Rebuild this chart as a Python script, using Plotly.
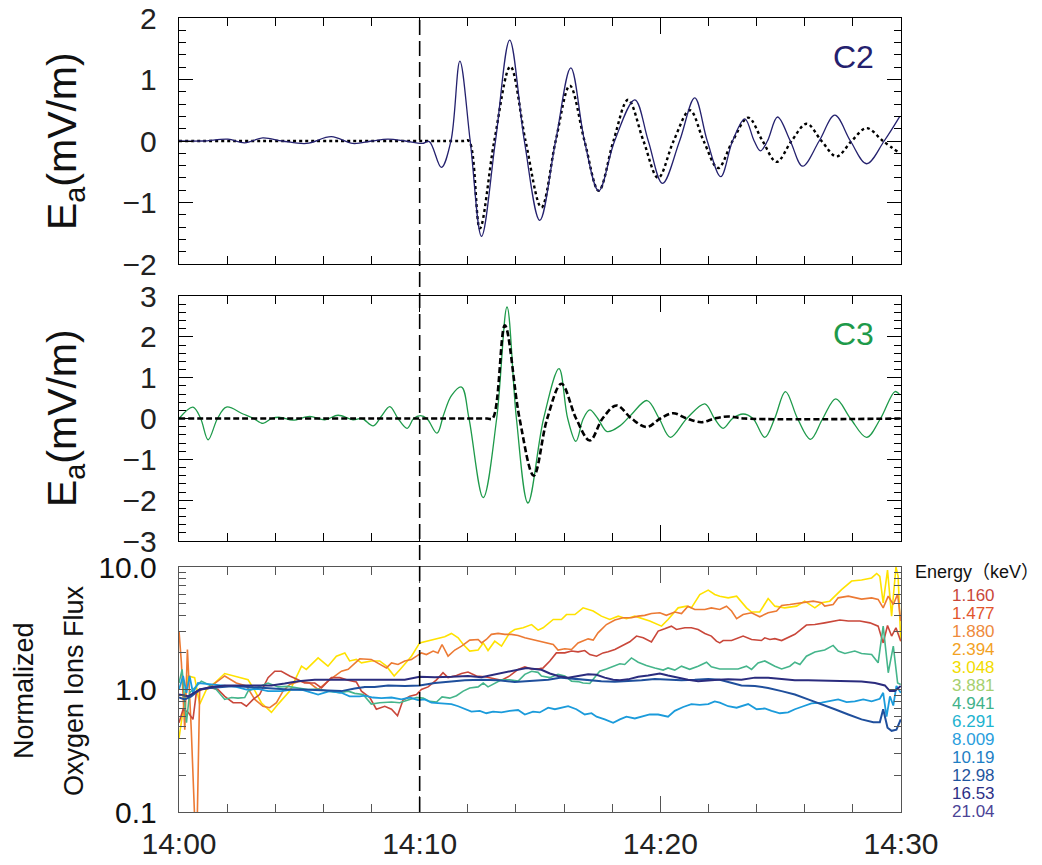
import plotly.graph_objects as go

# ---------------- data (minutes after 14:00) ----------------
# Panel C2: observed (solid) and model (dotted)
c2_t = [0, 1.0, 2.03, 2.73, 3.48, 4.3, 5.3, 6.33, 7.22, 8.0, 8.68, 9.4, 10.1, 10.4,
        10.9, 11.3, 11.67, 12.1, 12.57, 13.15, 13.74, 14.35, 14.99, 15.65, 16.28, 16.85,
        17.44, 18.1, 18.94, 19.5, 20.09, 20.8, 21.43, 21.95, 22.51, 23.0, 23.51, 23.9,
        24.16, 24.45, 24.87, 25.4, 25.91, 26.6, 27.25, 27.9, 28.57, 29.3, 29.95]
c2_obs = [0, 0.0, 0.03, -0.03, 0.05, 0.0, -0.04, 0.07, -0.04, 0.0, 0.03, 0.0, -0.04, -0.01,
          -0.43, 0.0, 1.30, 0.0, -1.55, 0.0, 1.64, 0.0, -1.29, 0.0, 1.19, 0.0,
          -0.81, 0.0, 0.67, 0.0, -0.69, 0.0, 0.70, 0.0, -0.58, 0.0, 0.36, 0.0,
          -0.16, 0.0, 0.39, 0.0, -0.41, 0.0, 0.42, 0.0, -0.37, 0.0, 0.40]
c2_mod_t = [0, 11.8, 12.05, 12.5, 13.1, 13.77, 14.4, 15.06, 15.65, 16.24, 16.85, 17.44,
            18.05, 18.66, 19.3, 19.91, 20.55, 21.23, 21.8, 22.4, 23.0, 23.65, 24.25,
            24.83, 25.45, 26.08, 26.7, 27.32, 27.95, 28.57, 29.25, 29.95]
c2_mod = [0, 0, 0, -1.42, 0, 1.21, 0, -1.08, 0, 0.90, 0, -0.81,
          0, 0.67, 0, -0.60, 0, 0.50, 0, -0.44, 0, 0.38, 0,
          -0.34, 0, 0.28, 0, -0.25, 0, 0.21, 0, -0.20]

# Panel C3: observed (solid) and model (dashed)
c3_t = [0, 0.58, 0.9, 1.21, 1.6, 1.97, 2.66, 3.1, 3.49, 3.85, 4.19, 4.74, 5.43, 6.06,
        6.61, 7.23, 7.6, 8.07, 8.4, 8.76, 9.1, 9.48, 9.75, 10.03, 10.3, 10.72, 11.0,
        11.32, 11.74, 12.05, 12.64, 13.2, 13.63, 14.02, 14.5, 15.15, 15.79, 16.15, 16.49,
        16.8, 17.07, 17.4, 17.79, 18.32, 18.8, 19.45, 19.95, 20.42, 21.1, 21.85, 22.25,
        22.61, 23.0, 23.44, 23.85, 24.34, 24.75, 25.2, 25.7, 26.24, 26.75, 27.29, 27.9,
        28.57, 29.15, 29.75, 29.95]
c3_obs = [0.0, 0.28, 0.0, -0.52, 0.0, 0.28, 0.11, 0.0, -0.12, 0.0, 0.03, -0.04, 0.05, -0.03,
          0.08, -0.03, 0.0, -0.18, 0.05, 0.29, 0.0, -0.24, 0.0, 0.07, 0.0, -0.36, 0.1,
          0.56, 0.77, 0.0, -1.94, 0.0, 2.73, 0.0, -2.07, 0.0, 1.22, 0.0, -0.56,
          0.0, 0.21, 0.0, -0.32, -0.18, 0.1, 0.44, 0.0, -0.46, 0.0, 0.36, 0.0,
          -0.24, 0.0, 0.11, 0.0, -0.46, 0.0, 0.66, 0.0, -0.51, 0.0, 0.48, 0.0,
          -0.46, 0.0, 0.66, 0.58]
c3_mod_t = [0, 12.8, 13.03, 13.54, 14.15, 14.74, 15.3, 15.89, 16.5, 17.07, 17.6, 18.18,
            18.8, 19.43, 20.0, 20.53, 21.1, 21.71, 22.25, 22.82, 23.5, 30]
c3_mod = [0, 0, 0, 2.28, 0, -1.40, 0, 0.85, 0, -0.54, 0, 0.32,
          0, -0.21, 0, 0.13, 0, -0.09, 0, 0.05, 0, 0]

# Normalized oxygen ion flux, (minute, value) pairs per energy channel
flux_3048 = [(0.00,0.40),(0.38,1.29),(0.65,1.25),(0.86,0.76),(1.14,1.0),(1.48,1.13),(1.90,1.35),
    (2.31,1.29),(2.87,1.2),(3.15,0.98),(3.42,0.78),(3.84,0.65),(4.12,0.76),(4.60,0.97),(5.09,1.55),
    (5.29,1.46),(5.78,1.81),(6.19,1.55),(6.54,1.87),(6.89,1.99),(7.09,1.71),(7.37,1.76),(7.58,1.65),
    (7.99,1.71),(8.34,1.71),(8.62,1.55),(8.94,1.29),(9.24,1.50),(9.66,1.87),(10.00,2.4),(10.42,2.53),
    (10.76,2.64),(11.04,2.7),(11.32,2.87),(11.60,2.64),(11.81,2.33),(12.08,2.06),(12.43,2.1),
    (12.64,2.4),(12.84,2.08),(13.12,2.48),(13.40,2.26),(13.74,2.9),(13.95,3.09),(14.30,3.19),
    (14.65,3.39),(14.92,3.05),(15.13,3.19),(15.55,3.73),(15.89,3.73),(16.10,4.09),(16.45,4.09),
    (16.79,4.64),(17.21,4.37),(17.55,3.97),(17.90,3.73),(18.25,3.97),(18.59,3.78),(18.94,3.97),
    (19.56,3.62),(20.05,3.29),(20.32,3.73),(20.74,4.64),(21.09,4.79),(21.29,4.64),(21.64,5.96),
    (21.99,6.47),(22.26,5.96),(22.47,5.78),(22.82,5.6),(23.17,5.78),(23.58,4.64),(23.79,4.29),
    (24.13,4.29),(24.48,5.53),(24.76,4.79),(25.17,4.64),(25.66,4.79),(26.00,5.26),(26.42,4.64),
    (26.70,5.1),(27.04,5.26),(27.25,5.78),(27.53,6.54),(27.95,7.68),(28.36,7.83),(28.78,8.14),
    (28.99,8.85),(29.12,8.4),(29.26,5.1),(29.44,9.43),(29.61,3.97),(29.79,10.0),(29.88,8.4),
    (29.99,2.48)]
flux_1880 = [(0.00,3.0),(0.10,1.65),(0.24,0.47),(0.35,2.12),(0.51,0.47),(0.65,0.09),(0.76,0.09),
    (0.86,1.0),(1.0,1.0),(1.35,1.07),(1.90,1.29),(2.38,1.13),(2.80,1.07),(3.15,0.83),(3.49,0.73),
    (3.77,0.71),(4.05,0.78),(4.32,0.97),(4.60,1.1),(5.02,1.17),(5.43,1.13),(5.78,1.0),(6.19,1.17),
    (6.47,1.29),(6.75,1.41),(7.03,1.46),(7.30,1.65),(7.51,1.78),(7.99,1.76),(8.27,1.65),(8.62,1.5),
    (8.83,1.65),(9.10,1.6),(9.38,1.71),(9.66,1.76),(9.87,1.87),(10.07,1.99),(10.28,1.93),
    (10.56,2.06),(10.76,1.99),(10.93,2.33),(11.18,1.87),(11.46,2.1),(11.74,2.26),(12.08,2.53),
    (12.43,2.56),(12.57,2.4),(12.77,2.56),(12.98,2.82),(13.26,2.87),(13.54,2.82),(13.81,2.82),
    (14.09,2.76),(14.37,2.64),(14.78,2.53),(14.99,2.48),(15.20,2.4),(15.55,2.33),(15.75,2.1),
    (16.03,2.15),(16.31,2.12),(16.58,2.4),(17.00,2.59),(17.21,2.53),(17.41,2.9),(17.76,3.39),
    (18.11,3.69),(18.45,3.85),(18.80,3.85),(19.08,3.97),(19.35,4.03),(19.63,4.17),(19.98,4.23),
    (20.25,4.03),(20.60,4.29),(20.88,4.17),(21.15,4.79),(21.43,4.5),(21.85,4.5),(22.12,4.64),
    (22.47,4.5),(22.75,4.79),(22.96,4.37),(23.17,3.78),(23.44,4.09),(23.79,4.23),(24.13,3.92),
    (24.48,4.23),(24.83,4.37),(25.04,4.85),(25.38,4.94),(25.87,5.1),(26.35,5.26),(26.70,5.1),
    (26.83,4.79),(27.18,4.94),(27.39,5.6),(27.81,5.78),(28.36,5.47),(28.78,5.6),(29.05,5.44),
    (29.26,4.64),(29.47,5.78),(29.68,4.94),(29.86,6.0),(29.99,3.62)]
flux_1160 = [(0.00,0.535),(0.17,0.69),(0.38,0.65),(0.58,0.57),(0.72,0.94),(0.93,1.0),(1.35,1.03),
    (1.62,1.0),(1.90,0.88),(2.25,0.78),(2.59,0.78),(2.80,0.73),(3.08,0.83),(3.35,0.91),(3.70,1.25),
    (3.98,1.41),(4.25,1.41),(4.60,1.29),(4.95,1.2),(5.22,1.13),(5.64,1.13),(5.92,1.03),(6.33,1.25),
    (6.68,1.25),(7.03,1.19),(7.37,1.15),(7.58,0.97),(7.93,0.86),(8.20,0.69),(8.55,0.73),(8.83,0.69),
    (9.08,0.61),(9.31,0.82),(9.59,0.88),(9.87,0.91),(10.07,1.0),(10.35,1.05),(10.70,1.2),
    (10.97,1.37),(11.18,1.25),(11.53,1.30),(11.74,1.35),(12.01,1.39),(12.36,1.29),(12.71,1.27),
    (13.12,1.22),(13.40,1.19),(13.74,1.29),(14.09,1.46),(14.37,1.53),(14.65,1.47),(14.99,1.48),
    (15.13,1.5),(15.41,1.71),(15.68,1.99),(16.03,1.99),(16.31,2.06),(16.58,2.03),(16.86,2.08),
    (17.07,1.93),(17.35,1.87),(17.62,1.99),(17.83,2.03),(18.11,2.12),(18.38,2.26),(18.73,2.45),
    (19.01,2.73),(19.29,2.64),(19.63,2.44),(19.91,3.0),(20.18,3.13),(20.46,3.29),(20.67,3.09),
    (21.02,3.19),(21.29,3.19),(21.57,3.09),(21.85,2.87),(22.12,2.73),(22.33,2.48),(22.47,2.4),
    (22.61,2.51),(22.96,2.51),(23.44,2.73),(23.79,2.56),(24.20,2.51),(24.34,2.64),(24.55,2.56),
    (24.76,2.6),(25.04,2.51),(25.31,2.64),(25.59,2.82),(26.07,3.36),(26.42,3.39),(26.83,3.5),
    (27.25,3.62),(27.46,3.69),(27.81,3.62),(28.29,3.62),(28.71,3.5),(29.05,3.29),(29.26,2.4),
    (29.44,3.33),(29.61,2.73),(29.79,3.19),(29.99,2.48)]
flux_4941 = [(0.00,1.13),(0.13,1.46),(0.31,0.535),(0.44,0.94),(0.65,1.03),(0.93,1.17),(1.21,1.1),
    (1.55,1.0),(1.90,0.83),(2.18,0.86),(2.45,0.85),(2.73,0.86),(2.87,0.97),(3.22,1.03),(3.70,1.13),
    (4.12,1.05),(4.53,1.06),(4.95,1.03),(5.36,1.0),(5.78,1.01),(6.19,0.97),(6.68,0.94),(7.03,0.97),
    (7.30,0.93),(7.65,0.91),(7.99,0.76),(8.34,0.78),(8.83,0.79),(9.17,0.78),(9.52,0.82),(9.87,0.86),
    (10.14,0.85),(10.42,0.80),(10.70,0.79),(10.93,0.87),(11.25,0.85),(11.53,0.89),(11.81,0.97),
    (12.08,1.03),(12.43,1.05),(12.64,1.13),(12.84,1.05),(13.12,1.12),(13.40,1.2),(13.74,1.2),
    (14.09,1.17),(14.37,1.33),(14.65,1.41),(14.92,1.38),(15.06,1.29),(15.41,1.25),(15.75,1.33),
    (16.03,1.29),(16.31,1.17),(16.58,1.16),(16.79,1.13),(17.07,1.12),(17.28,1.25),(17.48,1.41),
    (17.76,1.47),(18.11,1.55),(18.32,1.62),(18.52,1.6),(18.80,1.81),(19.08,1.67),(19.42,1.57),
    (19.77,1.5),(20.12,1.44),(20.32,1.5),(20.60,1.44),(20.88,1.55),(21.22,1.46),(21.57,1.55),
    (21.92,1.67),(22.12,1.53),(22.47,1.47),(22.89,1.47),(23.23,1.47),(23.58,1.55),(23.79,1.46),
    (24.06,1.65),(24.34,1.71),(24.76,1.55),(25.04,1.47),(25.38,1.55),(25.59,1.67),(25.80,1.6),
    (26.07,1.87),(26.42,2.02),(26.83,2.1),(27.18,2.29),(27.39,2.06),(27.67,1.97),(28.08,2.06),
    (28.36,1.97),(28.78,1.93),(29.05,1.65),(29.26,3.29),(29.47,1.37),(29.68,2.26),(29.86,1.13),
    (29.99,1.1)]
flux_8009 = [(0.00,1.0),(0.17,1.29),(0.31,0.94),(0.44,1.29),(0.58,0.94),(0.79,1.13),(1.14,1.11),
    (1.55,1.09),(1.97,1.07),(2.38,1.05),(2.80,1.0),(3.28,1.01),(3.70,0.97),(4.25,0.97),(4.67,1.0),
    (5.16,0.99),(5.78,0.91),(6.26,0.97),(6.75,0.94),(7.09,0.88),(7.51,0.88),(7.72,0.89),(8.06,0.86),
    (8.41,0.85),(8.83,0.86),(9.24,0.83),(9.59,0.86),(9.93,0.82),(10.21,0.83),(10.49,0.78),
    (10.90,0.77),(11.32,0.76),(11.60,0.73),(11.88,0.69),(12.15,0.66),(12.50,0.67),(12.77,0.64),
    (13.05,0.66),(13.40,0.65),(13.74,0.67),(14.09,0.68),(14.37,0.625),(14.71,0.66),(14.99,0.65),
    (15.34,0.71),(15.62,0.69),(15.89,0.71),(16.17,0.73),(16.51,0.69),(16.86,0.625),(17.14,0.64),
    (17.35,0.6),(17.69,0.57),(18.04,0.535),(18.32,0.57),(18.59,0.6),(18.94,0.58),(19.22,0.6),
    (19.56,0.625),(19.91,0.625),(20.32,0.6),(20.60,0.67),(20.95,0.72),(21.29,0.76),(21.64,0.75),
    (21.99,0.76),(22.26,0.80),(22.47,0.78),(22.82,0.73),(23.17,0.71),(23.65,0.76),(24.00,0.69),
    (24.34,0.70),(24.62,0.67),(24.97,0.64),(25.31,0.65),(25.59,0.69),(25.94,0.73),(26.28,0.77),
    (26.70,0.78),(27.04,0.81),(27.39,0.83),(27.74,0.79),(28.08,0.80),(28.43,0.83),(28.78,0.80),
    (29.12,0.84),(29.26,0.94),(29.40,0.6),(29.54,0.88),(29.68,0.74),(29.81,1.07),(29.99,0.94)]
flux_1298 = [(0.00,0.86),(0.24,0.83),(0.51,0.88),(0.86,1.0),(1.28,1.03),(1.76,1.05),(2.31,1.07),
    (2.87,1.05),(3.42,1.03),(3.98,1.02),(4.53,1.0),(5.09,1.0),(5.64,0.99),(6.19,0.97),(6.75,0.97),
    (7.30,1.02),(7.72,1.05),(8.13,1.05),(8.69,1.08),(9.38,1.07),(10.00,1.08),(10.63,1.13),
    (11.25,1.16),(11.88,1.19),(12.57,1.2),(13.26,1.19),(13.95,1.15),(14.51,1.17),(14.99,1.19),
    (15.34,1.2),(15.89,1.25),(16.45,1.22),(17.00,1.2),(17.55,1.17),(18.11,1.155),(18.66,1.17),
    (19.22,1.19),(19.77,1.22),(20.32,1.2),(20.88,1.19),(21.43,1.2),(21.99,1.22),(22.47,1.2),
    (22.82,1.15),(23.37,1.08),(23.93,1.07),(24.48,1.03),(25.04,0.97),(25.59,0.91),(26.14,0.83),
    (26.70,0.76),(27.25,0.69),(27.81,0.625),(28.36,0.57),(28.85,0.54),(29.12,0.54),(29.26,0.69),
    (29.44,0.487),(29.61,0.46),(29.81,0.47),(29.99,0.57)]
flux_1653 = [(0.00,0.91),(0.38,0.88),(0.86,1.0),(1.35,1.05),(1.90,1.08),(2.59,1.08),(3.28,1.07),
    (3.84,1.08),(4.39,1.12),(4.95,1.17),(5.64,1.2),(6.33,1.2),(6.89,1.2),(7.51,1.2),(7.99,1.19),
    (8.69,1.19),(9.38,1.2),(10.00,1.27),(10.63,1.26),(11.32,1.27),(12.01,1.29),(12.57,1.26),
    (13.12,1.33),(13.68,1.41),(14.09,1.47),(14.44,1.5),(14.78,1.47),(15.06,1.45),(15.41,1.35),
    (15.75,1.29),(16.17,1.25),(16.58,1.29),(17.00,1.33),(17.35,1.32),(17.69,1.25),(18.04,1.2),
    (18.32,1.19),(18.66,1.21),(19.08,1.27),(19.49,1.3),(19.98,1.35),(20.32,1.3),(20.67,1.25),
    (21.15,1.2),(21.57,1.17),(21.99,1.19),(22.40,1.2),(22.82,1.21),(23.37,1.2),(23.93,1.25),
    (24.48,1.25),(25.04,1.22),(25.59,1.19),(26.14,1.19),(26.70,1.18),(27.25,1.17),(27.81,1.17),
    (28.36,1.16),(28.92,1.13),(29.33,1.08),(29.54,0.97),(29.74,0.97),(29.99,1.07)]

energies = ["1.160", "1.477", "1.880", "2.394", "3.048", "3.881", "4.941",
            "6.291", "8.009", "10.19", "12.98", "16.53", "21.04"]
energy_colors = ["#C9473A", "#E2552C", "#EE8A3C", "#F3A21F", "#F2DC00", "#A6D06E", "#3FB28A",
                 "#1DB3D0", "#2A9EDD", "#1E7EC4", "#1F559E", "#2D2F86", "#4B4496"]

flux_series = [  # (channel, points, colour, width)
    ("3.048", flux_3048, "#FFE200", 1.6),
    ("1.880", flux_1880, "#EC7A34", 1.6),
    ("1.160", flux_1160, "#C9473A", 1.6),
    ("4.941", flux_4941, "#45B58B", 1.6),
    ("8.009", flux_8009, "#1B9BDB", 1.8),
    ("12.98", flux_1298, "#1F4F9C", 2.0),
    ("16.53", flux_1653, "#2B2C7E", 2.0),
]
tick_minutes = [0, 10, 20, 30]
tick_labels = ["14:00", "14:10", "14:20", "14:30"]

# ---------------- figure ----------------
W, H = 1042, 865
L, R, T, B = 179, 141, 18, 53
ph = H - T - B
pw = W - L - R


def ydom(top_px, bot_px):
    return [((H - B) - bot_px) / ph, ((H - B) - top_px) / ph]


FONT = "Liberation Sans, Arial, Helvetica, sans-serif"
CJK_FONT = "Liberation Sans, Arial, Noto Sans CJK SC, sans-serif"
TICKSIZE = 30
fig = go.Figure()

NAVY = "#24216E"
GREEN = "#1E9A4A"

fig.add_trace(go.Scatter(x=c2_mod_t, y=c2_mod, mode="lines", xaxis="x", yaxis="y",
                         line=dict(color="black", width=2.4, dash="dot", shape="spline", smoothing=1.0)))
fig.add_trace(go.Scatter(x=c2_t, y=c2_obs, mode="lines", xaxis="x", yaxis="y",
                         line=dict(color=NAVY, width=1.3, shape="spline", smoothing=1.0)))
fig.add_trace(go.Scatter(x=c3_t, y=c3_obs, mode="lines", xaxis="x2", yaxis="y2",
                         line=dict(color=GREEN, width=1.3, shape="spline", smoothing=1.0)))
fig.add_trace(go.Scatter(x=c3_mod_t, y=c3_mod, mode="lines", xaxis="x2", yaxis="y2",
                         line=dict(color="black", width=2.6, dash="6px,3px", shape="spline", smoothing=1.0)))

for name, pts, col, wd in flux_series:
    fig.add_trace(go.Scatter(x=[p[0] for p in pts], y=[p[1] for p in pts], mode="lines",
                             xaxis="x3", yaxis="y3", name=name,
                             line=dict(color=col, width=wd)))


def xax(anchor, show, lc="black"):
    return dict(domain=[0, 1], anchor=anchor, range=[0, 30], tickmode="array",
                tickvals=tick_minutes, ticktext=tick_labels,
                showticklabels=show, ticks="inside", ticklen=16, tickwidth=1.3, tickcolor=lc,
                minor=dict(dtick=2, tick0=0, ticks="inside", ticklen=8, tickwidth=1.2, tickcolor=lc),
                mirror="ticks", showline=True, linecolor=lc, linewidth=1.4,
                showgrid=False, zeroline=False, automargin=False,
                tickfont=dict(family=FONT, size=TICKSIZE, color="#222"), ticklabelstandoff=5)


def yax(anchor, dom, rng, vals, lc="black"):
    return dict(domain=dom, anchor=anchor, range=rng, tickmode="array", tickvals=vals,
                ticks="inside", ticklen=14, tickwidth=1.3, tickcolor=lc,
                minor=dict(dtick=0.2, ticks="inside", ticklen=7, tickwidth=1.2, tickcolor=lc),
                mirror="ticks", showline=True, linecolor=lc, linewidth=1.4,
                showgrid=False, zeroline=False, automargin=False,
                tickfont=dict(family=FONT, size=TICKSIZE, color="#222"), ticklabelstandoff=15)


y3 = dict(domain=ydom(567, 812), anchor="x3", type="log", range=[-1, 1], tickmode="array",
          tickvals=[0.1, 1, 10], ticktext=["0.1", "1.0", "10.0"],
          ticks="inside", ticklen=12, tickwidth=1.3, tickcolor="#555",
          minor=dict(tickmode="array", tickvals=[0.2, 0.3, 0.4, 0.5, 0.6, 0.7, 0.8, 0.9,
                                                 2, 3, 4, 5, 6, 7, 8, 9],
                     ticks="inside", ticklen=7, tickwidth=1.2, tickcolor="#555"),
          mirror="ticks", showline=True, linecolor="#555", linewidth=1.4,
          showgrid=False, zeroline=False, automargin=False,
          tickfont=dict(family=FONT, size=TICKSIZE, color="#111"), ticklabelstandoff=15)

fig.update_layout(
    width=W, height=H, margin=dict(l=L, r=R, t=T, b=B, autoexpand=False),
    paper_bgcolor="white", plot_bgcolor="white", showlegend=False,
    xaxis=xax("y", False), xaxis2=xax("y2", False), xaxis3=xax("y3", True, "#555"),
    yaxis=yax("x", ydom(18, 264), [-2, 2], [-2, -1, 0, 1, 2]),
    yaxis2=yax("x2", ydom(296, 541), [-3, 3], [-3, -2, -1, 0, 1, 2, 3]),
    yaxis3=y3,
    font=dict(family=FONT),
)

fig.add_shape(type="line", xref="x3", yref="paper", x0=10, x1=10, y0=0, y1=1,
              line=dict(color="black", width=1.6, dash="15px,6px"))


def px_x(p):
    return (p - L) / pw


def px_y(p):
    return ((H - B) - p) / ph


ann = []
for cy in (141, 418):
    ann.append(dict(x=px_x(65), y=px_y(cy), xref="paper", yref="paper", text="E<sub>a</sub>(mV/m)",
                    textangle=-90, showarrow=False, xanchor="center", yanchor="middle",
                    font=dict(family=FONT, size=41, color="#111")))
ann.append(dict(x=px_x(24), y=px_y(691), xref="paper", yref="paper", text="Normalized",
                textangle=-90, showarrow=False, xanchor="center", yanchor="middle",
                font=dict(family=FONT, size=27, color="#111")))
ann.append(dict(x=px_x(74), y=px_y(691), xref="paper", yref="paper", text="Oxygen Ions Flux",
                textangle=-90, showarrow=False, xanchor="center", yanchor="middle",
                font=dict(family=FONT, size=27, color="#111")))
ann.append(dict(x=px_x(853), y=px_y(57), xref="paper", yref="paper", text="C2", showarrow=False,
                xanchor="center", yanchor="middle",
                font=dict(family=FONT, size=32, color=NAVY)))
ann.append(dict(x=px_x(853), y=px_y(334), xref="paper", yref="paper", text="C3", showarrow=False,
                xanchor="center", yanchor="middle",
                font=dict(family=FONT, size=32, color=GREEN)))
ann.append(dict(x=px_x(913), y=px_y(572), xref="paper", yref="paper", text="Energy（keV）",
                showarrow=False, xanchor="left", yanchor="middle",
                font=dict(family=CJK_FONT, size=18, color="#111")))
for i, (e, c) in enumerate(zip(energies, energy_colors)):
    ann.append(dict(x=px_x(997), y=px_y(595 + i * 18.06), xref="paper", yref="paper", text=e,
                    showarrow=False, xanchor="right", yanchor="middle",
                    font=dict(family=FONT, size=17, color=c)))
fig.update_layout(annotations=ann)

fig.write_html("out.html")
